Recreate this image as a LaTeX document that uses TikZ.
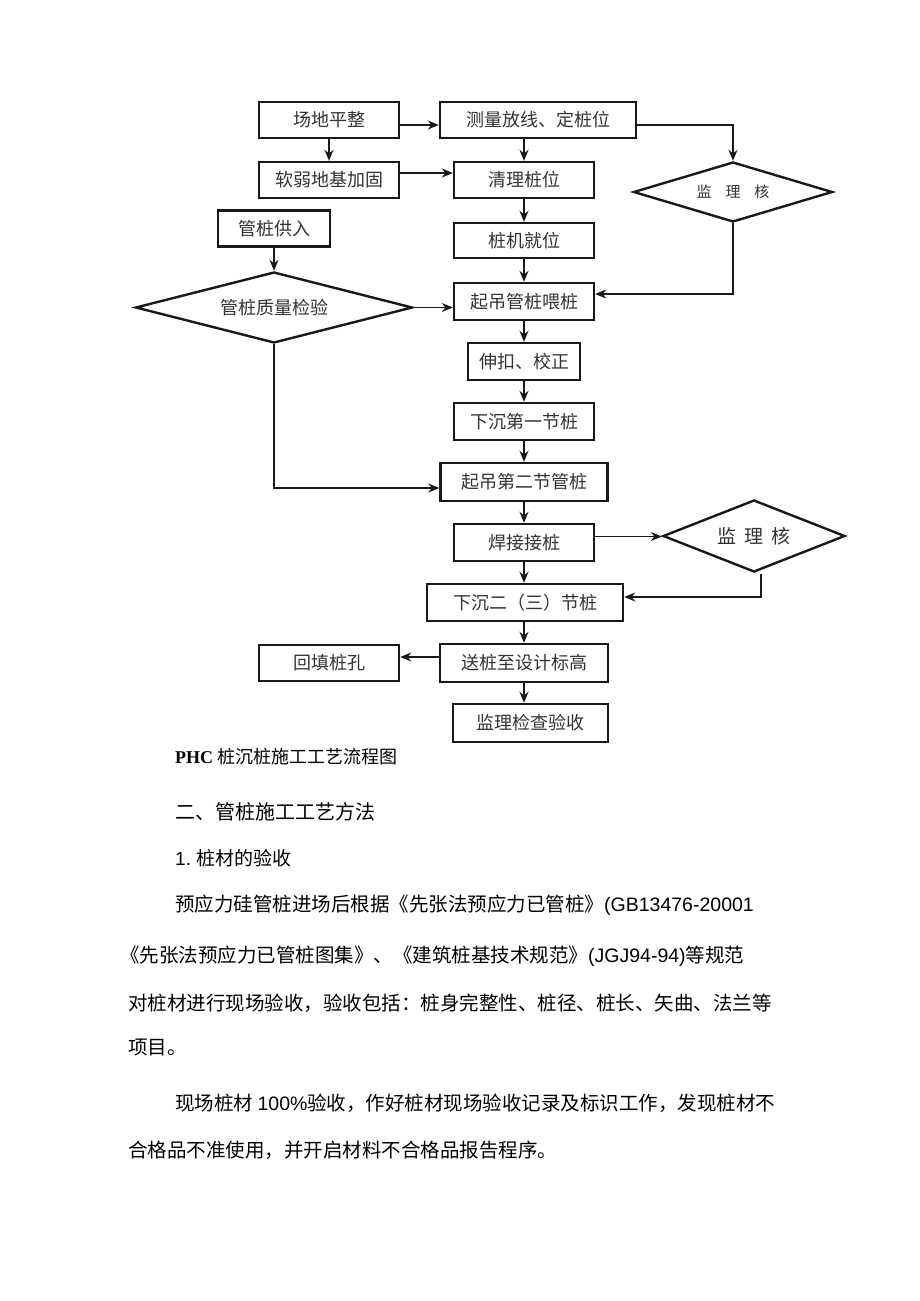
\documentclass[tikz,border=0pt]{standalone}
\usepackage{fontspec}
\setmainfont{Noto Sans CJK SC}
\newfontfamily\lat{Liberation Sans}
\newfontfamily\latserif{Liberation Serif}
\usetikzlibrary{shapes.geometric,arrows.meta}
\begin{document}
\begin{tikzpicture}[x=1pt,y=-1pt,
  box/.style={draw=black!90, line width=2.4pt, rectangle, inner sep=0pt, minimum height=36pt,
    text=black!80, font=\fontsize{18}{20}\selectfont},
  dia/.style={draw=black!90, line width=2.4pt, diamond, inner sep=0pt},
  dlabel/.style={text=black!80, inner sep=0pt},
  arr/.style={line width=1.5pt, draw=black!90, -{Stealth[length=11pt,width=9pt]}},
  body/.style={anchor=west, inner sep=0pt, text=black, font=\fontsize{19.5}{22}\selectfont},
]
\useasboundingbox[fill=white] (0,0) rectangle (920,1301);

% ---- boxes ----
\node[box, minimum width=140pt] (a1) at (329,120) {场地平整};
\node[box, minimum width=196pt] (a2) at (538,120) {测量放线、定桩位};
\node[box, minimum width=140pt] (b1) at (329,180) {软弱地基加固};
\node[box, minimum width=140pt] (b2) at (524,180) {清理桩位};
\node[box, minimum width=112pt] (s1) at (274,228.5) {管桩供入};
\node[box, minimum width=140pt, minimum height=35pt] (c2) at (524,240.5) {桩机就位};
\node[box, minimum width=140pt, minimum height=37pt] (c3) at (524,301.5) {起吊管桩喂桩};
\node[box, minimum width=112pt, minimum height=37pt] (c4) at (524,361.5) {伸扣、校正};
\node[box, minimum width=140pt, minimum height=37pt] (c5) at (524,421.5) {下沉第一节桩};
\node[box, minimum width=167pt, minimum height=38pt] (c6) at (524,482) {起吊第二节管桩};
\node[box, minimum width=140pt, minimum height=37pt] (c7) at (524,542.5) {焊接接桩};
\node[box, minimum width=196pt, minimum height=37pt] (c8) at (525,602.5) {下沉二（三）节桩};
\node[box, minimum width=168pt, minimum height=38pt] (c9) at (524,663) {送桩至设计标高};
\node[box, minimum width=140pt] (e1) at (329,663) {回填桩孔};
\node[box, minimum width=155pt, minimum height=38pt] (c10) at (530.5,723) {监理检查验收};

% ---- diamonds ----
\node[dia, minimum width=199pt, minimum height=60pt] (d1) at (733,192) {};
\node[dlabel, font=\fontsize{15}{18}\selectfont] (d1t) at (d1.center) {监\hspace{14pt}理\hspace{14pt}核};
\node[dia, minimum width=277pt, minimum height=71pt] (dq) at (274,307.5) {};
\node[dlabel, font=\fontsize{18}{20}\selectfont] (dqt) at (dq.center) {管桩质量检验};
\node[dia, minimum width=182pt, minimum height=72pt] (d2) at (754,536) {};
\node[dlabel, font=\fontsize{19}{20}\selectfont] (d2t) at (d2.center) {监\hspace{8pt}理\hspace{8pt}核};

\coordinate (d1c) at (733,294);
\coordinate (dqc) at (274,488);
\coordinate (d2s) at (761,574);
\coordinate (d2c) at (761,597);
\coordinate (a2c) at (733,125);
\coordinate (col) at (524,0);

% ---- connectors ----
\draw[arr] ([yshift=-5pt]a1.east) -- ([yshift=-5pt]a1.east -| a2.west);
\draw[arr] (a1.south) -- (b1.north);
\draw[arr] ([yshift=7pt]b1.east) -- ([yshift=7pt]b1.east -| b2.west);
\draw[arr] (col |- a2.south) -- (col |- b2.north);
\draw[arr] ([yshift=-5pt]a2.east) -- (a2c) -- (d1.north);
\draw[arr] (d1.south) -- (d1c) -- (d1c -| c3.east);
\draw[arr] (col |- b2.south) -- (col |- c2.north);
\draw[arr] (col |- c2.south) -- (col |- c3.north);
\draw[arr] (s1.south) -- (dq.north);
\draw[arr] (dq.east) -- (dq.east -| c3.west);
\draw[arr] (col |- c3.south) -- (col |- c4.north);
\draw[arr] (col |- c4.south) -- (col |- c5.north);
\draw[arr] (col |- c5.south) -- (col |- c6.north);
\draw[arr] (dq.south) -- (dqc) -- (dqc -| c6.west);
\draw[arr] (col |- c6.south) -- (col |- c7.north);
\draw[arr] ([yshift=6pt]c7.east) -- ([yshift=6pt]c7.east -| d2.west);
\draw[arr] (col |- c7.south) -- (col |- c8.north);
\draw[arr] (d2s) -- (d2c) -- (d2c -| c8.east);
\draw[arr] (col |- c8.south) -- (col |- c9.north);
\draw[arr] ([yshift=6pt]c9.west) -- ([yshift=6pt]c9.west -| e1.east);
\draw[arr] (col |- c9.south) -- (col |- c10.north);

% ---- texts below ----
\node[anchor=west, inner sep=0pt, font=\fontsize{18}{20}\selectfont] (cap) at (175,757) {{\latserif\bfseries PHC} 桩沉桩施工工艺流程图};
\node[anchor=west, inner sep=0pt, font=\fontsize{20}{22}\selectfont] (h2) at (175,812) {二、管桩施工工艺方法};
\node[anchor=west, inner sep=0pt, font=\fontsize{19}{22}\selectfont] (h3) at (175,858) {{\lat 1.} 桩材的验收};
\node[body] (p1) at (175,905) {预应力硅管桩进场后根据《先张法预应力已管桩》{\lat (GB13476-20001}};
\node[body] (p2) at (120,956) {《先张法预应力已管桩图集》、《建筑桩基技术规范》{\lat (JGJ94-94)}等规范};
\node[body] (p3) at (128,1003) {对桩材进行现场验收，验收包括：桩身完整性、桩径、桩长、矢曲、法兰等};
\node[body] (p4) at (128,1047) {项目。};
\node[body] (p5) at (175,1103) {现场桩材 {\lat 100\%}验收，作好桩材现场验收记录及标识工作，发现桩材不};
\node[body] (p6) at (128,1150) {合格品不准使用，并开启材料不合格品报告程序。};
\end{tikzpicture}
\end{document}
